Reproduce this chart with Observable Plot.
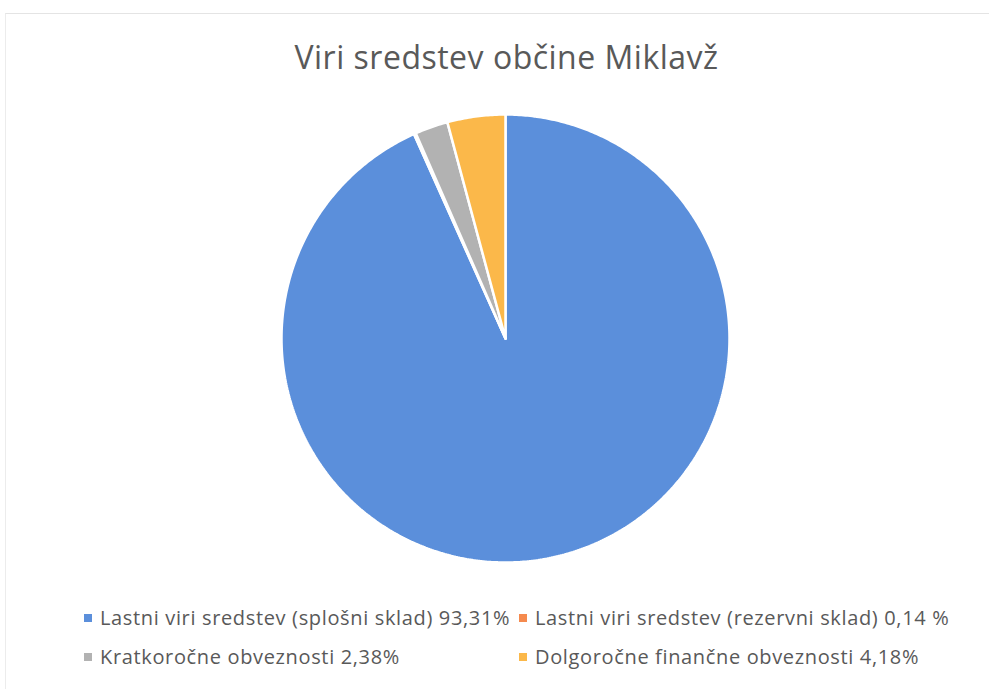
<!DOCTYPE html>
<html>
<head>
<meta charset="utf-8">
<script src="https://cdn.jsdelivr.net/npm/d3@7"></script>
<script src="https://cdn.jsdelivr.net/npm/@observablehq/plot@0.6"></script>
<style>
  html, body { margin: 0; padding: 0; background: #ffffff; }
  #frame { position: relative; width: 989px; height: 689px; overflow: hidden; background: #fff; font-family: "Open Sans", Lato, sans-serif; color: #595959; }
  #border { position: absolute; left: 5px; top: 13px; right: -5px; bottom: -5px; border-top: 1px solid #e4e4e4; border-left: 1px solid #ececec; }
  #title { position: absolute; left: 12px; top: 0; width: 989px; height: 98px; text-align: center; font-size: 32px; letter-spacing: 0.5px; line-height: 1; padding-top: 41px; box-sizing: border-box; color: #595959; }
  #chart { position: absolute; left: 0; top: 98px; }
  #legend { position: absolute; left: 0; top: 600px; width: 989px; font-size: 20px; letter-spacing: 0.65px; }
  .item { position: absolute; white-space: nowrap; display: flex; align-items: center; }
  .sw { width: 8px; height: 8px; margin-right: 8px; }
</style>
</head>
<body>
<div id="frame">
  <div id="border"></div>
  <div id="title">Viri sredstev občine Miklavž</div>
  <div id="chart"></div>
  <div id="legend"></div>
</div>
<script>
const categories = [
  "Lastni viri sredstev (splošni sklad)",
  "Lastni viri sredstev (rezervni sklad)",
  "Kratkoročne obveznosti",
  "Dolgoročne finančne obveznosti"
];
const values = [93.31, 0.14, 2.38, 4.18];
const labels = ["93,31%", "0,14 %", "2,38%", "4,18%"];
const colors = ["#5b8fdb", "#f58a4e", "#b2b2b2", "#fbb84a"];

const data = categories.map((c, i) => ({category: c, value: values[i]}));
const arcs = d3.pie().sort(null).value(d => d.value)(data);

// build slice outlines on a unit circle (angle 0 at top, clockwise)
const pts = [];
arcs.forEach(a => {
  const name = a.data.category;
  pts.push({category: name, x: 0, y: 0});
  const n = Math.max(2, Math.ceil((a.endAngle - a.startAngle) / 0.01));
  for (let k = 0; k <= n; k++) {
    const t = a.startAngle + (a.endAngle - a.startAngle) * k / n;
    pts.push({category: name, x: Math.sin(t), y: Math.cos(t)});
  }
  pts.push({category: name, x: 0, y: 0});
});

const chart = Plot.plot({
  width: 989,
  height: 490,
  marginLeft: 281,
  marginRight: 260,
  marginTop: 16,
  marginBottom: 26,
  x: {domain: [-1, 1], axis: null},
  y: {domain: [-1, 1], axis: null},
  color: {domain: categories, range: colors},
  marks: [
    Plot.line(pts, {x: "x", y: "y", z: "category", fill: "category", stroke: "#ffffff", strokeWidth: 2.5, strokeLinejoin: "miter"})
  ]
});
document.getElementById("chart").appendChild(chart);

const pos = [[84, 18], [519, 18], [84, 57], [519, 57]];
const legend = document.getElementById("legend");
categories.forEach((c, i) => {
  const it = document.createElement("div");
  it.className = "item";
  it.style.left = pos[i][0] + "px";
  it.style.top = (pos[i][1] - 14) + "px";
  const sw = document.createElement("span");
  sw.className = "sw";
  sw.style.background = colors[i];
  const tx = document.createElement("span");
  tx.textContent = c + " " + labels[i];
  it.appendChild(sw);
  it.appendChild(tx);
  legend.appendChild(it);
});
</script>
</body>
</html>
